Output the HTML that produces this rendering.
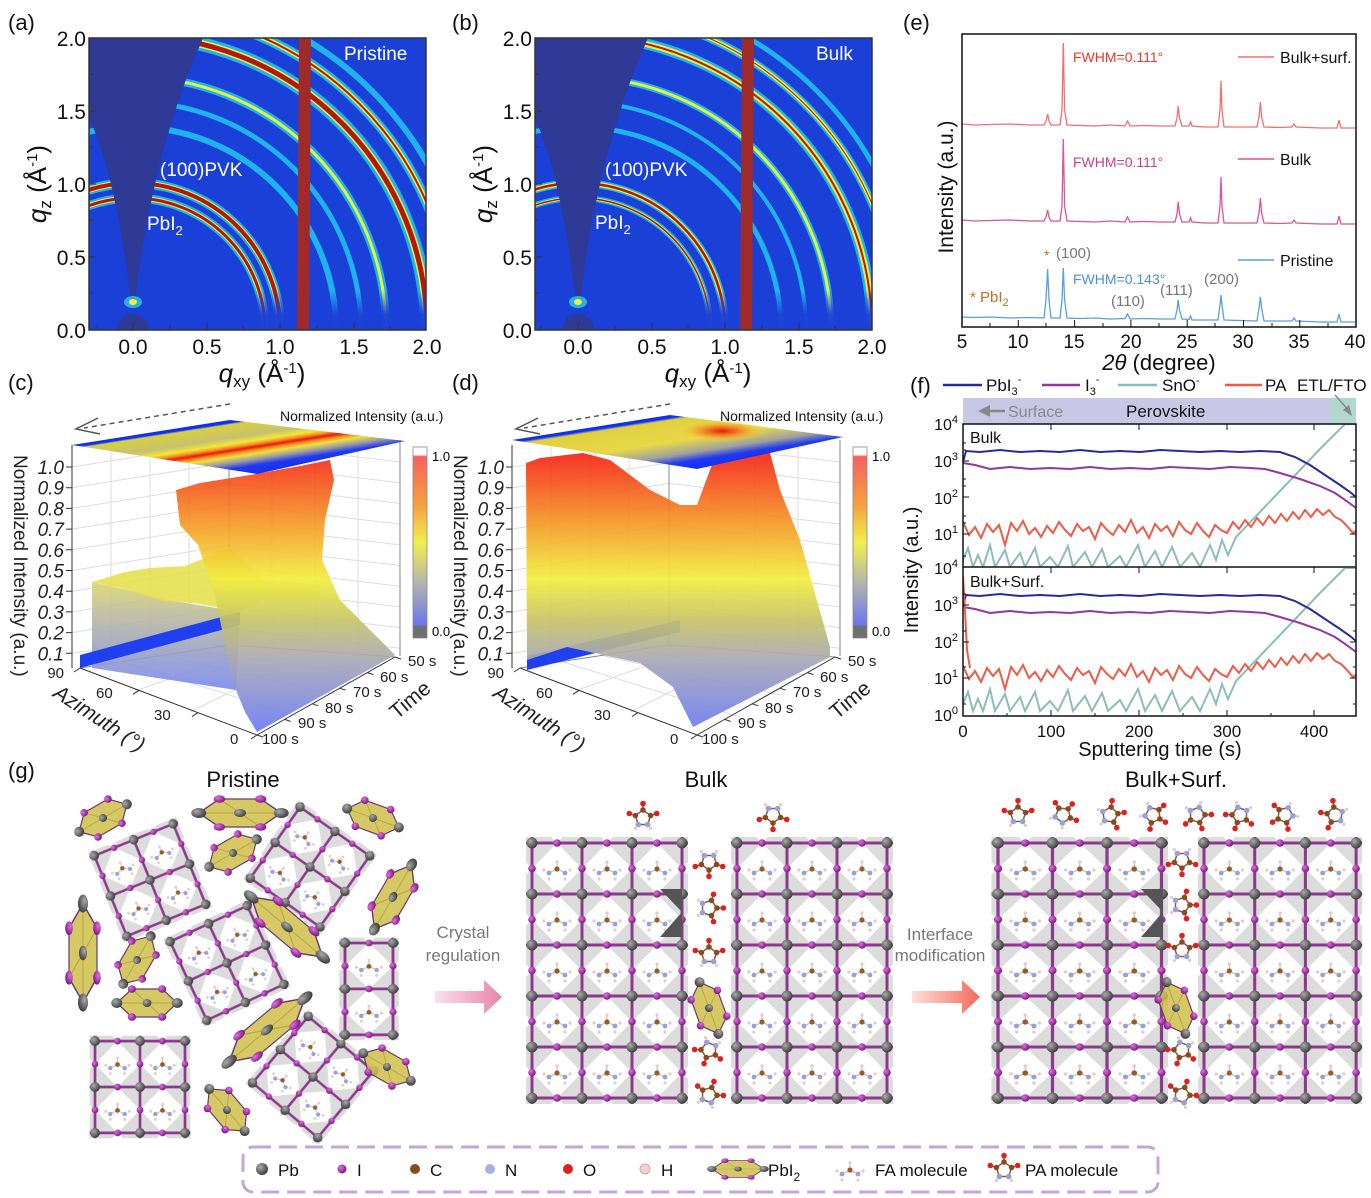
<!DOCTYPE html>
<html><head><meta charset="utf-8"><style>
html,body{margin:0;padding:0;background:#fff}
svg{display:block;font-family:"Liberation Sans",sans-serif}
</style></head><body>
<svg width="1371" height="1198" viewBox="0 0 1371 1198" xmlns="http://www.w3.org/2000/svg" xmlns:xlink="http://www.w3.org/1999/xlink">
<defs>
<clipPath id="ca"><rect x="89" y="38" width="337" height="292"/></clipPath>
<clipPath id="cb"><rect x="535" y="38" width="337" height="292"/></clipPath>
<clipPath id="cf1"><rect x="963" y="424" width="393" height="143"/></clipPath>
<clipPath id="cf2"><rect x="963" y="568" width="393" height="148"/></clipPath>
<linearGradient id="surf" x1="0" y1="455" x2="0" y2="730" gradientUnits="userSpaceOnUse">
<stop offset="0" stop-color="#f52818"/><stop offset="0.25" stop-color="#f59a28"/><stop offset="0.45" stop-color="#f2ee40"/><stop offset="0.6" stop-color="#c8c468"/><stop offset="0.75" stop-color="#a8a8b8"/><stop offset="1" stop-color="#6c7cf2"/></linearGradient>
<linearGradient id="surf2" x1="0" y1="570" x2="0" y2="690" gradientUnits="userSpaceOnUse">
<stop offset="0" stop-color="#e8e060"/><stop offset="0.4" stop-color="#b8b8a0"/><stop offset="1" stop-color="#7888f0"/></linearGradient>
<linearGradient id="topc" x1="72" y1="445" x2="81" y2="503" gradientUnits="userSpaceOnUse">
<stop offset="0" stop-color="#1030f0"/><stop offset="0.04" stop-color="#1030f0"/><stop offset="0.07" stop-color="#d8d040"/><stop offset="0.3" stop-color="#c8c070"/><stop offset="0.4" stop-color="#f0e838"/><stop offset="0.46" stop-color="#f59020"/><stop offset="0.51" stop-color="#e81810"/><stop offset="0.56" stop-color="#f59020"/><stop offset="0.62" stop-color="#f0e040"/><stop offset="0.72" stop-color="#9898a8"/><stop offset="0.82" stop-color="#2038f0"/><stop offset="1" stop-color="#1030f0"/></linearGradient>
<linearGradient id="topd" x1="512" y1="440" x2="521" y2="498" gradientUnits="userSpaceOnUse">
<stop offset="0" stop-color="#1030f0"/><stop offset="0.04" stop-color="#1030f0"/><stop offset="0.08" stop-color="#e0d040"/><stop offset="0.45" stop-color="#e8d848"/><stop offset="0.68" stop-color="#a0a0a0"/><stop offset="0.82" stop-color="#2038f0"/><stop offset="1" stop-color="#1030f0"/></linearGradient>
<radialGradient id="blob" cx="0.5" cy="0.5" r="0.5"><stop offset="0" stop-color="#e81810"/><stop offset="0.5" stop-color="#f59020" stop-opacity="0.8"/><stop offset="1" stop-color="#f0e040" stop-opacity="0"/></radialGradient>
<linearGradient id="cbar" x1="0" y1="0" x2="0" y2="1">
<stop offset="0" stop-color="#fff"/><stop offset="0.04" stop-color="#fff"/><stop offset="0.05" stop-color="#f86060"/><stop offset="0.3" stop-color="#f5a040"/><stop offset="0.5" stop-color="#f2ee50"/><stop offset="0.7" stop-color="#b8b8a8"/><stop offset="0.93" stop-color="#6878f0"/><stop offset="0.94" stop-color="#707070"/><stop offset="1" stop-color="#707070"/></linearGradient>
<linearGradient id="arr1" x1="0" x2="1"><stop offset="0" stop-color="#fbe0ea"/><stop offset="1" stop-color="#e884a8"/></linearGradient>
<linearGradient id="arr2" x1="0" x2="1"><stop offset="0" stop-color="#fde0dc"/><stop offset="1" stop-color="#f46a58"/></linearGradient>
<linearGradient id="hor" x1="0" y1="0" x2="0" y2="1"><stop offset="0" stop-color="#1b40d8" stop-opacity="0"/><stop offset="0.6" stop-color="#1b40d8" stop-opacity="0.95"/><stop offset="1" stop-color="#1b40d8"/></linearGradient>
<radialGradient id="pb" cx="0.35" cy="0.35" r="0.7"><stop offset="0" stop-color="#aaa"/><stop offset="1" stop-color="#3a3a3a"/></radialGradient>
<radialGradient id="ii" cx="0.35" cy="0.35" r="0.7"><stop offset="0" stop-color="#e070e0"/><stop offset="1" stop-color="#7a1480"/></radialGradient>

<g id="fa">
<g stroke="#bbb" stroke-width="1"><line x1="0" y1="0" x2="-8" y2="4"/><line x1="0" y1="0" x2="8" y2="4"/><line x1="0" y1="0" x2="0" y2="-7"/></g>
<circle cx="-8" cy="4" r="2.4" fill="#98a0d8"/><circle cx="8" cy="4" r="2.4" fill="#98a0d8"/><circle cx="0" cy="0" r="2.6" fill="#9a5a28"/>
<circle cx="0" cy="-7" r="1.6" fill="#e8c8c8"/><circle cx="-13" cy="1" r="1.6" fill="#e8c8c8"/><circle cx="13" cy="1" r="1.6" fill="#e8c8c8"/><circle cx="-8" cy="10" r="1.6" fill="#e8c8c8"/><circle cx="8" cy="10" r="1.6" fill="#e8c8c8"/>
</g>
<g id="pa">
<polygon points="0,-8 7.6,-2.5 4.7,6.5 -4.7,6.5 -7.6,-2.5" fill="none" stroke="#8a5a3a" stroke-width="1.5"/>
<g stroke="#c04030" stroke-width="1.5"><line x1="0" y1="-8" x2="0" y2="-14.4"/><line x1="7.6" y1="-2.5" x2="13.7" y2="-4.5"/><line x1="-7.6" y1="-2.5" x2="-13.7" y2="-4.5"/></g>
<circle cx="0" cy="-14.4" r="2.8" fill="#e02020"/><circle cx="13.7" cy="-4.5" r="2.8" fill="#e02020"/><circle cx="-13.7" cy="-4.5" r="2.8" fill="#e02020"/>
<circle cx="0" cy="-8" r="2.8" fill="#8a4a20"/><circle cx="7.6" cy="-2.5" r="2.8" fill="#8a4a20"/><circle cx="-7.6" cy="-2.5" r="2.8" fill="#8a4a20"/><circle cx="4.7" cy="6.5" r="2.8" fill="#98a0d8"/><circle cx="-4.7" cy="6.5" r="2.8" fill="#98a0d8"/>
<circle cx="7.5" cy="10.4" r="1.6" fill="#e8c8c8"/><circle cx="-7.5" cy="10.4" r="1.6" fill="#e8c8c8"/>
</g>
<g id="hx">
<polygon points="-27.5,0 -13.75,-14 13.75,-14 27.5,0 13.75,14 -13.75,14" fill="#cfc04a" fill-opacity="0.85" stroke="#6a3a6a" stroke-width="1.2"/>
<line x1="-13.75" y1="-14" x2="13.75" y2="14" stroke="#b8a840"/><line x1="-27.5" y1="0" x2="27.5" y2="0" stroke="#b8a840"/>
<circle cx="-27.5" cy="0" r="5" fill="url(#pb)"/><circle cx="27.5" cy="0" r="5" fill="url(#pb)"/>
<circle cx="-13.75" cy="-14" r="3.8" fill="url(#ii)"/><circle cx="13.75" cy="-14" r="3.8" fill="url(#ii)"/><circle cx="13.75" cy="14" r="3.8" fill="url(#ii)"/><circle cx="-13.75" cy="14" r="3.8" fill="url(#ii)"/>
<circle cx="0" cy="0" r="4" fill="url(#pb)"/>
</g>
<pattern id="lt" patternUnits="userSpaceOnUse" x="0" y="0" width="50" height="51">
<polygon points="0,0 25,0 0,25.5" fill="#dcdcdc"/><polygon points="50,0 25,0 50,25.5" fill="#dcdcdc"/><polygon points="0,51 25,51 0,25.5" fill="#dcdcdc"/><polygon points="50,51 25,51 50,25.5" fill="#dcdcdc"/>
<g stroke="#8a3a8a" stroke-width="3"><line x1="0" y1="0" x2="50" y2="0"/><line x1="0" y1="51" x2="50" y2="51"/><line x1="0" y1="0" x2="0" y2="51"/><line x1="50" y1="0" x2="50" y2="51"/></g>
<use href="#fa" x="25" y="26"/>
<circle cx="25" cy="0" r="3.8" fill="url(#ii)"/><circle cx="25" cy="51" r="3.8" fill="url(#ii)"/><circle cx="0" cy="25.5" r="3.8" fill="url(#ii)"/><circle cx="50" cy="25.5" r="3.8" fill="url(#ii)"/>
<circle cx="0" cy="0" r="5.5" fill="url(#pb)"/><circle cx="50" cy="0" r="5.5" fill="url(#pb)"/><circle cx="0" cy="51" r="5.5" fill="url(#pb)"/><circle cx="50" cy="51" r="5.5" fill="url(#pb)"/>
</pattern>

<path id="xrdTop" fill="none" stroke-width="1.3" d="M962,124 L975,125 L990,124.5 L1010,124 L1030,125 L1044,125 L1046,121 L1047.6,114 L1049,121 L1051,125 L1060,125 L1062,110 L1063.3,43 L1064.6,110 L1067,125 L1080,125.5 L1095,126 L1110,125 L1125,126 L1127.5,121 L1130,126 L1145,125.5 L1160,126 L1175,126 L1177,118 L1178.2,106 L1179.5,118 L1182,126 L1189,126 L1190.6,122 L1192,126 L1205,127 L1218,127 L1220,110 L1221,81 L1222,110 L1224,127 L1240,127 L1257,127 L1259,117 L1260.4,102 L1261.6,117 L1264,127 L1280,127.5 L1292,127 L1294,124 L1296,127 L1320,128 L1337,128 L1339,120 L1341,128 L1356,128"/>

<path id="pbl" fill="none" stroke="#2a2a98" stroke-width="2" d="M963,462 L966,451 L980,452 L1000,450 L1020,452 L1040,451 L1060,452 L1080,450 L1100,452 L1120,451 L1140,452 L1160,450 L1180,451 L1200,452 L1220,451 L1240,452 L1260,451 L1280,452 L1295,457 L1310,465 L1325,475 L1340,485 L1350,492 L1356,497"/>
<path id="i3l" fill="none" stroke="#8a3aa0" stroke-width="2" d="M963,463 L975,465 L990,469 L1010,467 L1030,469 L1050,468 L1070,469 L1090,467 L1110,469 L1130,468 L1150,469 L1170,467 L1190,468 L1210,469 L1230,467 L1250,468 L1265,469 L1280,473 L1300,479 L1320,486 L1335,493 L1348,502 L1356,508"/>
<path id="pal" fill="none" stroke="#f05a48" stroke-width="2" d="M963,522 L969,535 L975,527 L981,538 L987,524 L993,532 L999,525 L1005,545 L1011,523 L1017,531 L1023,521 L1029,534 L1035,528 L1041,537 L1047,526 L1053,533 L1059,522 L1065,530 L1071,536 L1077,524 L1083,531 L1089,527 L1095,539 L1101,523 L1107,530 L1113,535 L1119,525 L1125,532 L1131,520 L1137,533 L1143,527 L1149,538 L1155,524 L1161,531 L1167,526 L1173,536 L1179,522 L1185,530 L1191,534 L1197,523 L1203,531 L1209,537 L1215,525 L1221,530 L1227,533 L1233,522 L1239,529 L1245,520 L1251,527 L1257,518 L1263,525 L1269,516 L1275,523 L1281,514 L1287,521 L1293,512 L1299,519 L1305,510 L1311,517 L1317,509 L1323,515 L1329,510 L1335,517 L1341,520 L1347,526 L1353,533 L1356,531"/>
<path id="snl" fill="none" stroke="#8ebcbc" stroke-width="2" d="M963,560 L968,548 L973,567 L978,555 L983,567 L990,545 L995,567 L1005,550 L1010,567 L1020,553 L1025,567 L1035,548 L1040,567 L1050,557 L1058,567 L1068,546 L1073,567 L1085,552 L1092,567 L1102,549 L1108,567 L1120,556 L1126,567 L1138,545 L1145,567 L1155,551 L1162,567 L1172,547 L1180,567 L1192,553 L1200,567 L1210,545 L1216,560 L1222,540 L1228,555 L1236,537 L1260,512 L1280,491 L1300,470 L1320,449 L1340,429 L1345,424 L1356,424"/>
</defs>

<!-- (a) -->
<rect x="89" y="38" width="337" height="292" fill="#1b40d8"/>
<g clip-path="url(#ca)" fill="none">
<g stroke="#20c8f0" opacity="0.85"><circle cx="133" cy="330" r="132" stroke-width="9"/><circle cx="133" cy="330" r="147" stroke-width="10"/><circle cx="133" cy="330" r="203" stroke-width="6"/><circle cx="133" cy="330" r="228" stroke-width="5"/><circle cx="133" cy="330" r="253" stroke-width="8"/><circle cx="133" cy="330" r="294" stroke-width="14"/><circle cx="133" cy="330" r="320" stroke-width="10"/><circle cx="133" cy="330" r="338" stroke-width="6"/></g>
<g stroke="#e8f040"><circle cx="133" cy="330" r="132" stroke-width="5"/><circle cx="133" cy="330" r="147" stroke-width="6"/><circle cx="133" cy="330" r="253" stroke-width="3"/><circle cx="133" cy="330" r="294" stroke-width="8"/><circle cx="133" cy="330" r="320" stroke-width="5"/></g>
<g stroke="#b01818"><circle cx="133" cy="330" r="132" stroke-width="3"/><circle cx="133" cy="330" r="147" stroke-width="4"/><circle cx="133" cy="330" r="294" stroke-width="5"/><circle cx="133" cy="330" r="320" stroke-width="2"/></g>
<rect x="89" y="290" width="337" height="40" fill="url(#hor)"/>
<path d="M86,38 L203,38 Q153,150 135,300 L131,300 Q113,160 86,113 Z" fill="#2e3a96"/>
<ellipse cx="133" cy="302" rx="9" ry="6" fill="#30e0e0" opacity="0.7"/><ellipse cx="133" cy="302" rx="4" ry="3" fill="#f0f040"/>
<circle cx="133" cy="330" r="16" fill="#2e3a96"/>
<path d="M299,38 L311,38 L309,330 L297,330 Z" fill="#9e2a2a"/>
</g>
<rect x="89" y="38" width="337" height="292" fill="none" stroke="#333" stroke-width="1.5"/>
<!-- (b) -->
<rect x="535" y="38" width="337" height="292" fill="#1b40d8"/>
<g clip-path="url(#cb)" fill="none">
<g stroke="#20c8f0" opacity="0.85"><circle cx="578" cy="330" r="132" stroke-width="6"/><circle cx="578" cy="330" r="147" stroke-width="8"/><circle cx="578" cy="330" r="203" stroke-width="5"/><circle cx="578" cy="330" r="228" stroke-width="4"/><circle cx="578" cy="330" r="253" stroke-width="7"/><circle cx="578" cy="330" r="294" stroke-width="11"/><circle cx="578" cy="330" r="320" stroke-width="8"/><circle cx="578" cy="330" r="338" stroke-width="5"/></g>
<g stroke="#e8f040"><circle cx="578" cy="330" r="132" stroke-width="3"/><circle cx="578" cy="330" r="147" stroke-width="5"/><circle cx="578" cy="330" r="253" stroke-width="3"/><circle cx="578" cy="330" r="294" stroke-width="6"/><circle cx="578" cy="330" r="320" stroke-width="4"/></g>
<g stroke="#b01818"><circle cx="578" cy="330" r="132" stroke-width="1.5"/><circle cx="578" cy="330" r="147" stroke-width="2.5"/><circle cx="578" cy="330" r="294" stroke-width="2"/><circle cx="578" cy="330" r="320" stroke-width="1"/></g>
<rect x="535" y="290" width="337" height="40" fill="url(#hor)"/>
<path d="M532,38 L648,38 Q598,150 580,300 L576,300 Q558,160 532,113 Z" fill="#2e3a96"/>
<ellipse cx="578" cy="302" rx="9" ry="6" fill="#30e0e0" opacity="0.7"/><ellipse cx="578" cy="302" rx="4" ry="3" fill="#f0f040"/>
<circle cx="578" cy="330" r="16" fill="#2e3a96"/>
<path d="M742,38 L754,38 L752,330 L740,330 Z" fill="#9e2a2a"/>
</g>
<rect x="535" y="38" width="337" height="292" fill="none" stroke="#333" stroke-width="1.5"/>
<g stroke="#333">
<path d="M133,330 v-7 M207,330 v-7 M280,330 v-7 M354,330 v-7 M96,330 v-4 M170,330 v-4 M243,330 v-4 M317,330 v-4 M390,330 v-4 M89,38 h7 M89,111 h7 M89,184 h7 M89,257 h7 M89,74 h4 M89,147 h4 M89,220 h4 M89,293 h4"/>
<path d="M578,330 v-7 M652,330 v-7 M725,330 v-7 M799,330 v-7 M541,330 v-4 M615,330 v-4 M688,330 v-4 M762,330 v-4 M835,330 v-4 M535,38 h7 M535,111 h7 M535,184 h7 M535,257 h7 M535,74 h4 M535,147 h4 M535,220 h4 M535,293 h4"/>
</g>

<g font-size="22" fill="#111">
<text x="8" y="30">(a)</text><text x="452" y="30">(b)</text><text x="903" y="30">(e)</text>
<text x="8" y="390">(c)</text><text x="452" y="390">(d)</text><text x="910" y="393">(f)</text>
<text x="8" y="778">(g)</text>
</g>
<g font-size="21" fill="#111" text-anchor="end">
<text x="86" y="46">2.0</text><text x="86" y="119">1.5</text><text x="86" y="192">1.0</text><text x="86" y="265">0.5</text><text x="86" y="338">0.0</text>
<text x="532" y="46">2.0</text><text x="532" y="119">1.5</text><text x="532" y="192">1.0</text><text x="532" y="265">0.5</text><text x="532" y="338">0.0</text>
</g>
<g font-size="21" fill="#111" text-anchor="middle">
<text x="133" y="354">0.0</text><text x="207" y="354">0.5</text><text x="280" y="354">1.0</text><text x="354" y="354">1.5</text><text x="427" y="354">2.0</text>
<text x="578" y="354">0.0</text><text x="652" y="354">0.5</text><text x="725" y="354">1.0</text><text x="799" y="354">1.5</text><text x="872" y="354">2.0</text>
<text x="262" y="382" font-size="26"><tspan font-style="italic">q</tspan><tspan font-size="17" dy="5">xy</tspan><tspan dy="-5"> (Å</tspan><tspan font-size="15" dy="-9">-1</tspan><tspan dy="9">)</tspan></text>
<text x="708" y="382" font-size="26"><tspan font-style="italic">q</tspan><tspan font-size="17" dy="5">xy</tspan><tspan dy="-5"> (Å</tspan><tspan font-size="15" dy="-9">-1</tspan><tspan dy="9">)</tspan></text>
<text transform="translate(46,184) rotate(-90)" font-size="26"><tspan font-style="italic">q</tspan><tspan font-size="17" dy="5">z</tspan><tspan dy="-5"> (Å</tspan><tspan font-size="15" dy="-9">-1</tspan><tspan dy="9">)</tspan></text>
<text transform="translate(492,184) rotate(-90)" font-size="26"><tspan font-style="italic">q</tspan><tspan font-size="17" dy="5">z</tspan><tspan dy="-5"> (Å</tspan><tspan font-size="15" dy="-9">-1</tspan><tspan dy="9">)</tspan></text>
</g>
<g fill="#fff" font-size="19">
<text x="344" y="60">Pristine</text><text x="816" y="60">Bulk</text>
<text x="160" y="176">(100)PVK</text><text x="147" y="230">PbI<tspan font-size="13" dy="5">2</tspan></text>
<text x="605" y="176">(100)PVK</text><text x="595" y="229">PbI<tspan font-size="13" dy="5">2</tspan></text>
</g>

<!-- (e) -->
<use href="#xrdTop" stroke="#f07070"/>
<use href="#xrdTop" stroke="#d85598" transform="translate(0,96)"/>
<path fill="none" stroke="#5aa0dc" stroke-width="1.3" d="M962,317 L975,317.5 L990,317 L1010,318 L1030,317.5 L1044,318 L1046,300 L1047.6,269 L1049,300 L1051,318 L1060,318 L1062,300 L1063.3,268 L1064.6,300 L1067,318 L1080,318.5 L1095,318 L1110,319 L1125,318.5 L1127.5,314 L1130,319 L1145,318.5 L1160,319 L1175,319 L1177,310 L1178.2,300 L1179.5,310 L1182,319 L1189,319.5 L1190.6,316 L1192,320 L1205,320 L1218,320 L1220,305 L1221,295 L1222,305 L1224,320 L1240,320.5 L1257,321 L1259,308 L1260.4,297 L1261.6,308 L1264,321 L1280,321 L1292,321 L1294,318 L1296,321 L1320,322 L1337,322 L1339,314 L1341,322 L1356,322"/>
<rect x="962" y="34" width="394" height="293" fill="none" stroke="#111" stroke-width="1.5"/>
<path stroke="#111" d="M962,327 v-7 M1018.3,327 v-7 M1074.6,327 v-7 M1130.9,327 v-7 M1187.2,327 v-7 M1243.5,327 v-7 M1299.8,327 v-7 M990,327 v-4 M1046,327 v-4 M1103,327 v-4 M1159,327 v-4 M1215,327 v-4 M1272,327 v-4 M1328,327 v-4"/>
<g font-size="19" fill="#111" text-anchor="middle">
<text x="962" y="348">5</text><text x="1018" y="348">10</text><text x="1074" y="348">15</text><text x="1131" y="348">20</text><text x="1187" y="348">25</text><text x="1243" y="348">30</text><text x="1299" y="348">35</text><text x="1355" y="348">40</text>
<text x="1159" y="370" font-size="22"><tspan font-style="italic">2θ</tspan> (degree)</text>
<text transform="translate(953,187) rotate(-90)" font-size="21">Intensity (a.u.)</text>
</g>
<g font-size="14">
<text x="1073" y="62" fill="#e83828">FWHM=0.111°</text>
<text x="1073" y="167" fill="#d03c88">FWHM=0.111°</text>
<text x="1073" y="284" fill="#4a90d8">FWHM=0.143°</text>
<text x="1056" y="258" fill="#777" font-size="15">(100)</text><text x="1044" y="260" fill="#c07020" font-size="14">*</text>
<text x="1111" y="306" fill="#777" font-size="15">(110)</text><text x="1160" y="295" fill="#777" font-size="15">(111)</text><text x="1204" y="284" fill="#777" font-size="15">(200)</text>
<text x="970" y="302" fill="#c07020" font-size="15">* PbI<tspan font-size="11" dy="4">2</tspan></text>
</g>
<g font-size="16" fill="#111">
<line x1="1238" y1="57" x2="1274" y2="57" stroke="#f07070" stroke-width="1.5"/><text x="1280" y="63">Bulk+surf.</text>
<line x1="1238" y1="159" x2="1274" y2="159" stroke="#d85598" stroke-width="1.5"/><text x="1280" y="165">Bulk</text>
<line x1="1238" y1="260" x2="1274" y2="260" stroke="#5aa0dc" stroke-width="1.5"/><text x="1280" y="266">Pristine</text>
</g>

<!-- (f) -->
<rect x="963" y="398" width="393" height="26" fill="#c8c8e6"/>
<rect x="1330" y="398" width="26" height="26" fill="#b0d8cc"/>
<line x1="1005" y1="411" x2="985" y2="411" stroke="#888" stroke-width="2.5"/><polygon points="978,411 990,405 990,417" fill="#888"/>
<text x="1008" y="417" font-size="16" fill="#888">Surface</text>
<text x="1126" y="417" font-size="17" fill="#111">Perovskite</text>
<line x1="1335" y1="395" x2="1350" y2="412" stroke="#888" stroke-width="1.5"/><polygon points="1352,416 1343,410 1349,405" fill="#888"/>
<g font-size="17" fill="#111">
<line x1="943" y1="385" x2="982" y2="385" stroke="#2a2a98" stroke-width="2.5"/><text x="986" y="391">PbI<tspan font-size="11" dy="4">3</tspan><tspan font-size="11" dy="-12">-</tspan></text>
<line x1="1042" y1="385" x2="1080" y2="385" stroke="#8a3aa0" stroke-width="2.5"/><text x="1085" y="391">I<tspan font-size="11" dy="4">3</tspan><tspan font-size="11" dy="-12">-</tspan></text>
<line x1="1118" y1="385" x2="1157" y2="385" stroke="#8ebcbc" stroke-width="2.5"/><text x="1162" y="391">SnO<tspan font-size="11" dy="-7">-</tspan></text>
<line x1="1225" y1="385" x2="1262" y2="385" stroke="#f05a48" stroke-width="2.5"/><text x="1265" y="391">PA</text>
<text x="1297" y="391">ETL/FTO</text>
</g>
<g clip-path="url(#cf1)"><use href="#snl"/><use href="#pal"/><use href="#i3l"/><use href="#pbl"/></g>
<g clip-path="url(#cf2)"><g transform="translate(0,144)"><use href="#snl"/><use href="#pal"/><use href="#i3l"/><use href="#pbl"/></g>
<path d="M963,576 L965,610 L967,650 L970,668" fill="none" stroke="#f05a48" stroke-width="2"/></g>
<rect x="963" y="424" width="393" height="292" fill="none" stroke="#111" stroke-width="1.5"/>
<line x1="963" y1="567" x2="1356" y2="567" stroke="#111" stroke-width="1.5"/>
<path stroke="#111" d="M963,461 h6 M963,497 h6 M963,534 h6 M963,605 h6 M963,642 h6 M963,678 h6 M1356,461 h-6 M1356,497 h-6 M1356,534 h-6 M1356,605 h-6 M1356,642 h-6 M1356,678 h-6 M963,450 h3 M963,443 h3 M963,486 h3 M963,479 h3 M963,523 h3 M963,516 h3 M963,556 h3 M963,594 h3 M963,631 h3 M963,667 h3 M963,704 h3 M1356,450 h-3 M1356,486 h-3 M1356,523 h-3 M1356,556 h-3 M1356,594 h-3 M1356,631 h-3 M1356,667 h-3 M1356,704 h-3 M1051,716 v-6 M1139,716 v-6 M1227,716 v-6 M1314,716 v-6 M1007,716 v-3 M1095,716 v-3 M1183,716 v-3 M1271,716 v-3 M1051,424 v6 M1139,424 v6 M1227,424 v6 M1314,424 v6 M1051,567 v6 M1139,567 v6 M1227,567 v6 M1314,567 v6"/>
<g font-size="16" fill="#111" text-anchor="end">
<text x="958" y="430">10<tspan font-size="11" dy="-7">4</tspan></text><text x="958" y="467">10<tspan font-size="11" dy="-7">3</tspan></text><text x="958" y="504">10<tspan font-size="11" dy="-7">2</tspan></text><text x="958" y="540">10<tspan font-size="11" dy="-7">1</tspan></text>
<text x="958" y="574">10<tspan font-size="11" dy="-7">4</tspan></text><text x="958" y="611">10<tspan font-size="11" dy="-7">3</tspan></text><text x="958" y="648">10<tspan font-size="11" dy="-7">2</tspan></text><text x="958" y="684">10<tspan font-size="11" dy="-7">1</tspan></text><text x="958" y="721">10<tspan font-size="11" dy="-7">0</tspan></text>
</g>
<g font-size="17" fill="#111" text-anchor="middle">
<text x="963" y="737">0</text><text x="1051" y="737">100</text><text x="1139" y="737">200</text><text x="1227" y="737">300</text><text x="1314" y="737">400</text>
<text x="1160" y="756" font-size="20">Sputtering time (s)</text>
<text transform="translate(918,570) rotate(-90)" font-size="20">Intensity (a.u.)</text>
</g>
<text x="970" y="443" font-size="16" fill="#111">Bulk</text>
<text x="970" y="587" font-size="16" fill="#111">Bulk+Surf.</text>

<!-- (c)(d) walls -->
<g id="walls">
<path fill="none" stroke="#ddd" d="M72,467 L229,442 L400,462 M72,487.7 L229,462.7 L400,482.7 M72,508.4 L229,483.4 L400,503.4 M72,529.1 L229,504.1 L400,524.1 M72,549.8 L229,524.8 L400,544.8 M72,570.5 L229,545.5 L400,565.5 M72,591.2 L229,566.2 L400,586.2 M72,611.9 L229,586.9 L400,606.9 M72,632.6 L229,607.6 L400,627.6 M72,653.3 L229,628.3 L400,648.3 M111,439 V662 M150,433 V656 M189,427 V650 M272,425 V648 M315,430 V651 M358,435 V654 M120,661 L300,717 M160,655 L340,695 M190,650 L365,675 M135,691 L262,646 M190,712 L315,650"/>
<path fill="none" stroke="#888" d="M229,420 V645 M400,440 V656 M80,668 L229,645 L395,657"/>
<line x1="72" y1="445" x2="72" y2="668" stroke="#333"/>
</g>
<use href="#walls" transform="translate(440,0)"/>

<!-- surfaces (c) -->
<polygon points="92,582 92,668 236,690 240,612 180,602" fill="url(#surf2)" opacity="0.9"/>
<polygon points="80,668 80,655 240,612 240,625" fill="#2040f0"/>
<polygon points="92,582 125,572 150,568 185,566 230,548 265,580 320,585 320,600 260,600 240,612 200,604 160,600 120,588" fill="#e6e050" opacity="0.9"/>
<polygon points="176,490 200,483 250,475 300,466 330,460 334,480 325,520 322,560 340,600 370,630 395,655 257,732 245,712 232,680 224,640 214,590 198,545 180,525" fill="url(#surf)" opacity="0.92"/>
<polygon points="72,445 230,420 405,441 257,474" fill="url(#topc)"/>
<!-- surfaces (d) -->
<g transform="translate(440,0)">
<polygon points="87,670 87,656 240,620 240,632" fill="#2040f0"/>
<polygon points="86,463 100,458 143,453 170,460 210,490 240,505 257,505 270,470 277,453 300,452 330,453 340,490 360,540 390,647 390,657 253,727 233,687 200,663 127,647 87,660" fill="url(#surf)" opacity="0.93"/>
</g>
<polygon points="512,440 670,415 843,437 697,469" fill="url(#topd)"/>
<ellipse cx="722" cy="431" rx="45" ry="11" fill="url(#blob)"/>

<g id="axes3">
<path fill="none" stroke="#333" d="M80,668 L257,735 L395,657 M80,668 l-6,4 M139,690.3 l-6,4 M198,712.6 l-6,4 M257,735 l-6,4 M395,657 l6,2 M367.4,672.6 l6,2 M339.8,688.2 l6,2 M312.2,703.8 l6,2 M284.6,719.4 l6,2 M257,735 l6,2 M72,467 h-6 M72,487.7 h-6 M72,508.4 h-6 M72,529.1 h-6 M72,549.8 h-6 M72,570.5 h-6 M72,591.2 h-6 M72,611.9 h-6 M72,632.6 h-6 M72,653.3 h-6"/>
<line x1="230" y1="404" x2="84" y2="428" stroke="#555" stroke-width="1.5" stroke-dasharray="5 4"/><polyline points="98,418 76,429 100,434" fill="none" stroke="#555" stroke-width="1.5"/>
<text x="280" y="421" font-size="14" fill="#111">Normalized Intensity (a.u.)</text>
<rect x="413" y="447" width="14" height="191" fill="url(#cbar)" stroke="#888" stroke-width="0.8"/><text x="432" y="461" font-size="13">1.0</text><text x="432" y="636" font-size="13">0.0</text>
<g font-size="19" font-style="italic" fill="#222" text-anchor="end">
<text x="64" y="474">1.0</text><text x="64" y="494.7">0.9</text><text x="64" y="515.4">0.8</text><text x="64" y="536.1">0.7</text><text x="64" y="556.8">0.6</text><text x="64" y="577.5">0.5</text><text x="64" y="598.2">0.4</text><text x="64" y="618.9">0.3</text><text x="64" y="639.6">0.2</text><text x="64" y="660.3">0.1</text>
</g>
<text x="64" y="678" font-size="15" text-anchor="end" fill="#222">90</text>
<g font-size="15" fill="#222"><text x="96" y="698">60</text><text x="154" y="720">30</text><text x="230" y="744">0</text>
<text x="408" y="666">50 s</text><text x="380" y="682">60 s</text><text x="353" y="697">70 s</text><text x="325" y="713">80 s</text><text x="298" y="728">90 s</text><text x="262" y="744">100 s</text></g>
<text transform="translate(52,696) rotate(33)" font-size="21" font-style="italic" fill="#222">Azimuth (°)</text>
<text transform="translate(397,720) rotate(-40)" font-size="21" fill="#222">Time</text>
<text transform="translate(14,455) rotate(90)" font-size="19" fill="#222">Normalized Intensity (a.u.)</text>
</g>
<use href="#axes3" transform="translate(440,0)"/>

<!-- (g) Pristine -->
<rect transform="translate(150,880) rotate(-22) scale(0.85)" x="-56" y="-57" width="112" height="114" fill="url(#lt)"/>
<rect transform="translate(310,867) rotate(35) scale(0.85)" x="-56" y="-57" width="112" height="114" fill="url(#lt)"/>
<rect transform="translate(227,963) rotate(-25) scale(0.85)" x="-56" y="-57" width="112" height="114" fill="url(#lt)"/>
<rect transform="translate(140,1087) scale(0.9)" x="-56" y="-57" width="112" height="114" fill="url(#lt)"/>
<rect transform="translate(313,1077) rotate(40) scale(0.85)" x="-56" y="-57" width="112" height="114" fill="url(#lt)"/>
<rect transform="translate(345,943) scale(0.96,0.9)" x="-6" y="-6" width="62" height="114" fill="url(#lt)"/>
<use href="#hx" transform="translate(103,818) rotate(-30)"/>
<use href="#hx" transform="translate(240,813) scale(1.5,1)"/>
<use href="#hx" transform="translate(373,818) rotate(20)"/>
<use href="#hx" transform="translate(233,853) rotate(-30)"/>
<use href="#hx" transform="translate(83,953) rotate(90) scale(1.8,1)"/>
<use href="#hx" transform="translate(137,960) rotate(-60)"/>
<use href="#hx" transform="translate(147,1003) scale(1.1,1)"/>
<use href="#hx" transform="translate(287,927) rotate(40) scale(1.7,1)"/>
<use href="#hx" transform="translate(393,897) rotate(-60) scale(1.35,1)"/>
<use href="#hx" transform="translate(267,1030) rotate(-40) scale(1.8,1)"/>
<use href="#hx" transform="translate(387,1067) rotate(30)"/>
<use href="#hx" transform="translate(227,1110) rotate(50)"/>

<!-- Bulk -->
<rect transform="translate(532,843)" x="-6" y="-6" width="162" height="267" fill="url(#lt)"/>
<rect transform="translate(737,843)" x="-6" y="-6" width="162" height="267" fill="url(#lt)"/>
<polygon points="660,889 682,889 682,912" fill="#555"/><polygon points="682,912 682,937 660,937" fill="#555"/>
<use href="#pa" transform="translate(643,818)"/>
<use href="#pa" transform="translate(773,815) rotate(180)"/>
<use href="#pa" transform="translate(709,862) rotate(180)"/>
<use href="#pa" transform="translate(709,908) rotate(90)"/>
<use href="#pa" transform="translate(709,955)"/>
<use href="#pa" transform="translate(709,1050) rotate(200)"/>
<use href="#pa" transform="translate(709,1095) rotate(20)"/>
<use href="#hx" transform="translate(709,1008) rotate(70)"/>

<!-- Bulk+Surf -->
<rect transform="translate(998,843) scale(1.09,1)" x="-6" y="-6" width="162" height="267" fill="url(#lt)"/>
<rect transform="translate(1204,843) scale(1.014,1)" x="-6" y="-6" width="162" height="267" fill="url(#lt)"/>
<polygon points="1141,889 1163,889 1163,912" fill="#555"/><polygon points="1163,912 1163,937 1141,937" fill="#555"/>
<use href="#pa" transform="translate(1018,815)"/><use href="#pa" transform="translate(1063,815) rotate(40)"/><use href="#pa" transform="translate(1110,815) rotate(80)"/><use href="#pa" transform="translate(1153,815) rotate(120)"/>
<use href="#pa" transform="translate(1197,815) rotate(160)"/><use href="#pa" transform="translate(1240,815) rotate(200)"/><use href="#pa" transform="translate(1285,815) rotate(240)"/><use href="#pa" transform="translate(1335,815) rotate(280)"/>
<use href="#pa" transform="translate(1182,860) rotate(180)"/><use href="#pa" transform="translate(1182,905) rotate(90)"/><use href="#pa" transform="translate(1182,950)"/><use href="#pa" transform="translate(1182,1050) rotate(200)"/><use href="#pa" transform="translate(1182,1095) rotate(20)"/>
<use href="#hx" transform="translate(1176,1008) rotate(70)"/>

<g font-size="22" fill="#111" text-anchor="middle">
<text x="243" y="787">Pristine</text><text x="706" y="787">Bulk</text><text x="1176" y="787">Bulk+Surf.</text>
</g>
<g font-size="17" fill="#777" text-anchor="middle">
<text x="463" y="938">Crystal</text><text x="463" y="961">regulation</text>
<text x="940" y="940">Interface</text><text x="940" y="961">modification</text>
</g>
<polygon points="435,991 484,991 484,980 502,997 484,1014 484,1003 435,1003" fill="url(#arr1)"/>
<polygon points="912,991 962,991 962,980 980,997 962,1014 962,1003 912,1003" fill="url(#arr2)"/>
<rect x="243" y="1147" width="915" height="45" rx="10" fill="none" stroke="#c4a6d8" stroke-width="3" stroke-dasharray="18 8"/>
<circle cx="262" cy="1169" r="6" fill="url(#pb)"/><circle cx="342" cy="1169" r="4.5" fill="url(#ii)"/>
<circle cx="415" cy="1169" r="5" fill="#8a4a20"/><circle cx="490" cy="1169" r="5" fill="#a8b0e0"/><circle cx="568" cy="1169" r="5" fill="#e02020"/><circle cx="645" cy="1169" r="5" fill="#f0d0d0" stroke="#caa"/>
<use href="#hx" transform="translate(738,1169) scale(0.95,0.6)"/>
<use href="#fa" x="850" y="1170"/>
<use href="#pa" transform="translate(1004,1170)"/>
<g font-size="17" fill="#111">
<text x="278" y="1176">Pb</text><text x="357" y="1176">I</text><text x="430" y="1176">C</text><text x="505" y="1176">N</text><text x="583" y="1176">O</text><text x="661" y="1176">H</text>
<text x="768" y="1176">PbI<tspan font-size="12" dy="5">2</tspan></text><text x="875" y="1176">FA molecule</text><text x="1025" y="1176">PA molecule</text>
</g>
</svg>
</body></html>
